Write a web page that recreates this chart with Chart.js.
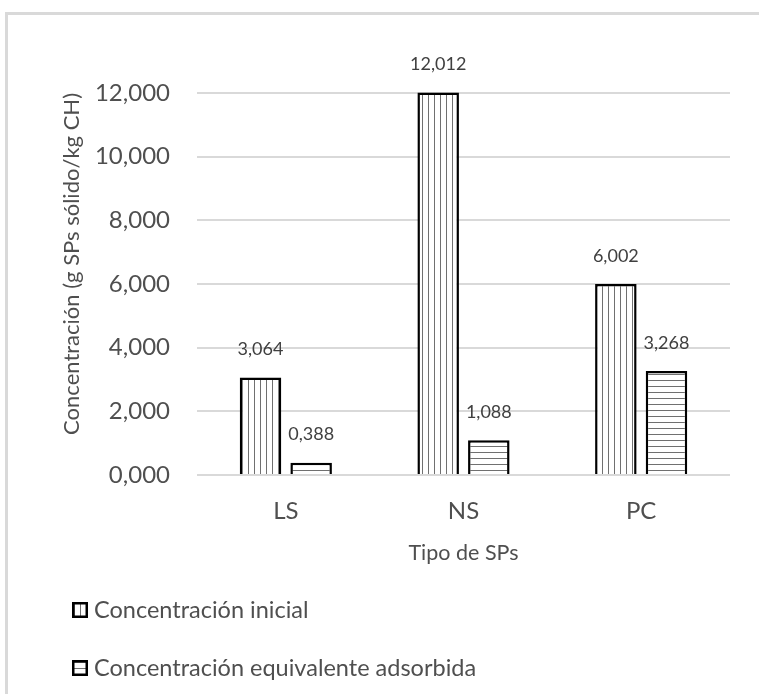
<!DOCTYPE html>
<html>
<head>
<meta charset="utf-8">
<script src="https://cdn.jsdelivr.net/npm/chart.js@4"></script>
<style>
  html, body { margin: 0; padding: 0; background: #fff; }
  #wrap { position: relative; width: 759px; height: 694px; overflow: hidden; }
  #frame { position: absolute; left: 5px; top: 12px; right: -4px; bottom: -4px; border-left: 3px solid #d9d9d9; border-top: 3px solid #d9d9d9; }
  canvas { position: absolute; left: 0; top: 0; }
</style>
</head>
<body>
<div id="wrap">
  <div id="frame"></div>
  <canvas id="chart" width="759" height="694"></canvas>
</div>
<script>
// data
const categories = ["LS", "NS", "PC"];
const seriesNames = ["Concentración inicial", "Concentración equivalente adsorbida"];
const initialValues = [3.064, 12.012, 6.002];
const adsorbedValues = [0.388, 1.088, 3.268];
const yTicks = [0, 2, 4, 6, 8, 10, 12];

const FONT = "Lato";
const TEXT = "#4f4f4f";

// 3 decimals with a comma as decimal separator
const fmt = (v) => v.toFixed(3).replace(".", ",");

// white tile with a thin grey stripe, vertical or horizontal
function hatch(vertical) {
  const c = document.createElement("canvas");
  c.width = 6;
  c.height = 6;
  const g = c.getContext("2d");
  g.fillStyle = "#fff";
  g.fillRect(0, 0, 6, 6);
  g.fillStyle = "#707070";
  if (vertical) g.fillRect(2, 0, 1, 6);
  else g.fillRect(0, 2, 6, 1);
  return g.createPattern(c, "repeat");
}

// numbers above each bar
const valueLabels = {
  id: "valueLabels",
  afterDatasetsDraw(chart) {
    const ctx = chart.ctx;
    ctx.save();
    ctx.font = "18px " + FONT;
    ctx.fillStyle = "#404040";
    ctx.textAlign = "center";
    ctx.textBaseline = "middle";
    chart.data.datasets.forEach((ds, i) => {
      chart.getDatasetMeta(i).data.forEach((bar, j) => {
        ctx.fillText(fmt(ds.data[j]), bar.x, bar.y - 28);
      });
    });
    ctx.restore();
  }
};

// legend stacked one entry per line under the axis
const stackedLegend = {
  id: "stackedLegend",
  afterDraw(chart) {
    const ctx = chart.ctx;
    const rows = [610, 668];
    ctx.save();
    ctx.font = "23.5px " + FONT;
    ctx.textBaseline = "middle";
    chart.data.datasets.forEach((ds, i) => {
      const y = rows[i];
      ctx.fillStyle = "#000";
      ctx.fillRect(72, y - 8, 16, 16);
      ctx.fillStyle = ds.backgroundColor;
      ctx.fillRect(74.5, y - 5.5, 11, 11);
      ctx.fillStyle = TEXT;
      ctx.fillText(ds.label, 94, y);
    });
    ctx.restore();
  }
};

const ctx = document.getElementById("chart").getContext("2d");
new Chart(ctx, {
  type: "bar",
  data: {
    labels: categories,
    datasets: [
      {
        label: seriesNames[0],
        data: initialValues,
        backgroundColor: hatch(true),
        borderColor: "#000",
        borderWidth: 2.5,
        clip: false
      },
      {
        label: seriesNames[1],
        data: adsorbedValues,
        backgroundColor: hatch(false),
        borderColor: "#000",
        borderWidth: 2.5,
        clip: false
      }
    ]
  },
  options: {
    responsive: false,
    animation: false,
    categoryPercentage: 0.57,
    barPercentage: 0.82,
    layout: {
      padding: { left: 55, right: 29, top: 93, bottom: 124 }
    },
    plugins: {
      legend: { display: false },
      tooltip: { enabled: false }
    },
    scales: {
      x: {
        grid: { display: false },
        border: { display: false },
        ticks: {
          color: TEXT,
          font: { family: FONT, size: 24 },
          padding: 14
        },
        title: {
          display: true,
          text: "Tipo de SPs",
          color: TEXT,
          font: { family: FONT, size: 21.5 }
        },
        afterFit: (scale) => { scale.height = 95; }
      },
      y: {
        min: 0,
        max: 12,
        afterBuildTicks: (scale) => {
          scale.ticks = yTicks.map((v) => ({ value: v }));
        },
        ticks: {
          color: TEXT,
          font: { family: FONT, size: 24 },
          padding: 27,
          callback: (v) => fmt(v)
        },
        grid: {
          color: "#d9d9d9",
          lineWidth: 2,
          drawTicks: false
        },
        border: { display: false },
        title: {
          display: true,
          align: "end",
          text: "Concentración (g SPs sólido/kg CH)",
          color: TEXT,
          font: { family: FONT, size: 22 }
        },
        afterFit: (scale) => { scale.width = 142; }
      }
    }
  },
  plugins: [valueLabels, stackedLegend]
});
</script>
</body>
</html>
